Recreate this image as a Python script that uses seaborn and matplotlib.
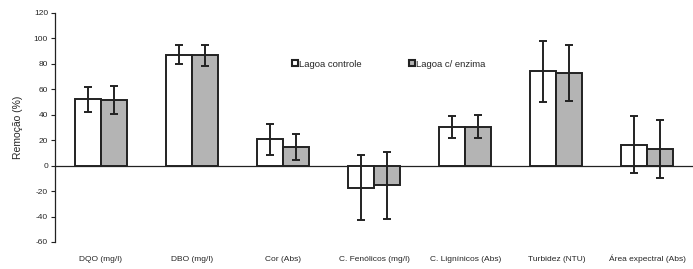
import matplotlib
matplotlib.use("Agg")
import matplotlib.pyplot as plt
import seaborn as sns
import pandas as pd
import numpy as np
from matplotlib.patches import Patch

categories = ["DQO (mg/l)", "DBO (mg/l)", "Cor (Abs)", "C. Fenólicos (mg/l)",
              "C. Lignínicos (Abs)", "Turbidez (NTU)", "Área expectral (Abs)"]
series = ["Lagoa controle", "Lagoa c/ enzima"]
controle = [52, 87, 20.5, -17.5, 30.5, 74, 16.5]
controle_err = [10, 7.5, 12, 25.5, 8.8, 24, 22.5]
enzima = [51.5, 86.5, 14.5, -15.5, 30.5, 73, 13]
enzima_err = [11, 8, 10.5, 26.5, 9, 22, 22.5]
yticks = [-60, -40, -20, 0, 20, 40, 60, 80, 100, 120]

sns.set_theme(style="white")
plt.rcParams['font.family'] = ['Liberation Sans', 'DejaVu Sans']
plt.rcParams['axes.unicode_minus'] = False

df = pd.DataFrame({
    "cat": categories * 2,
    "serie": [series[0]] * len(categories) + [series[1]] * len(categories),
    "val": controle + enzima,
})

fig = plt.figure(figsize=(6.93, 2.69), dpi=100)
ax = fig.add_axes([0.0794, 0.1004, 0.9206, 0.8523])

edge = "#222222"
sns.barplot(data=df, x="cat", y="val", hue="serie", order=categories,
            hue_order=series, palette=["white", "#b4b4b4"], width=0.57,
            edgecolor=edge, linewidth=1.4, errorbar=None, ax=ax, legend=False,
            saturation=1)

# error bars at bar centres
errs = controle_err + enzima_err
vals = controle + enzima
bars = list(ax.patches)[:len(vals)]
xs = [p.get_x() + p.get_width() / 2 for p in bars]
ax.errorbar(xs, vals, yerr=errs, fmt="none", ecolor=edge, elinewidth=1.4,
            capsize=3, capthick=1.4, zorder=5)

ax.set_ylim(-60, 120)
ax.set_yticks(yticks)
ax.set_xlim(-0.5, len(categories) - 0.5)
ax.axhline(0, color=edge, lw=0.9, zorder=0.5)
for s in ["top", "right", "bottom"]:
    ax.spines[s].set_visible(False)
ax.spines["left"].set_color(edge)
ax.spines["left"].set_linewidth(0.9)
ax.tick_params(axis="y", left=True, length=3, width=0.8, color=edge,
               labelsize=6, pad=2)
ax.tick_params(axis="x", bottom=False, length=0, labelsize=6, pad=13.5)
for lab in ax.get_xticklabels():
    lab.set_verticalalignment("baseline")
ax.set_xlabel("")
ax.set_ylabel("Remoção (%)", fontsize=7.5, labelpad=8)

handles = [Patch(facecolor="white", edgecolor=edge, linewidth=1.5),
           Patch(facecolor="#b4b4b4", edgecolor=edge, linewidth=1.5)]
ax.legend(handles, series, ncol=2, frameon=False, fontsize=6.8,
          loc="center left", bbox_to_anchor=(0.366, 0.776),
          handlelength=0.6, handleheight=0.6, handletextpad=0.15,
          columnspacing=5.0, borderaxespad=0)

fig.savefig("out.png", dpi=100)
